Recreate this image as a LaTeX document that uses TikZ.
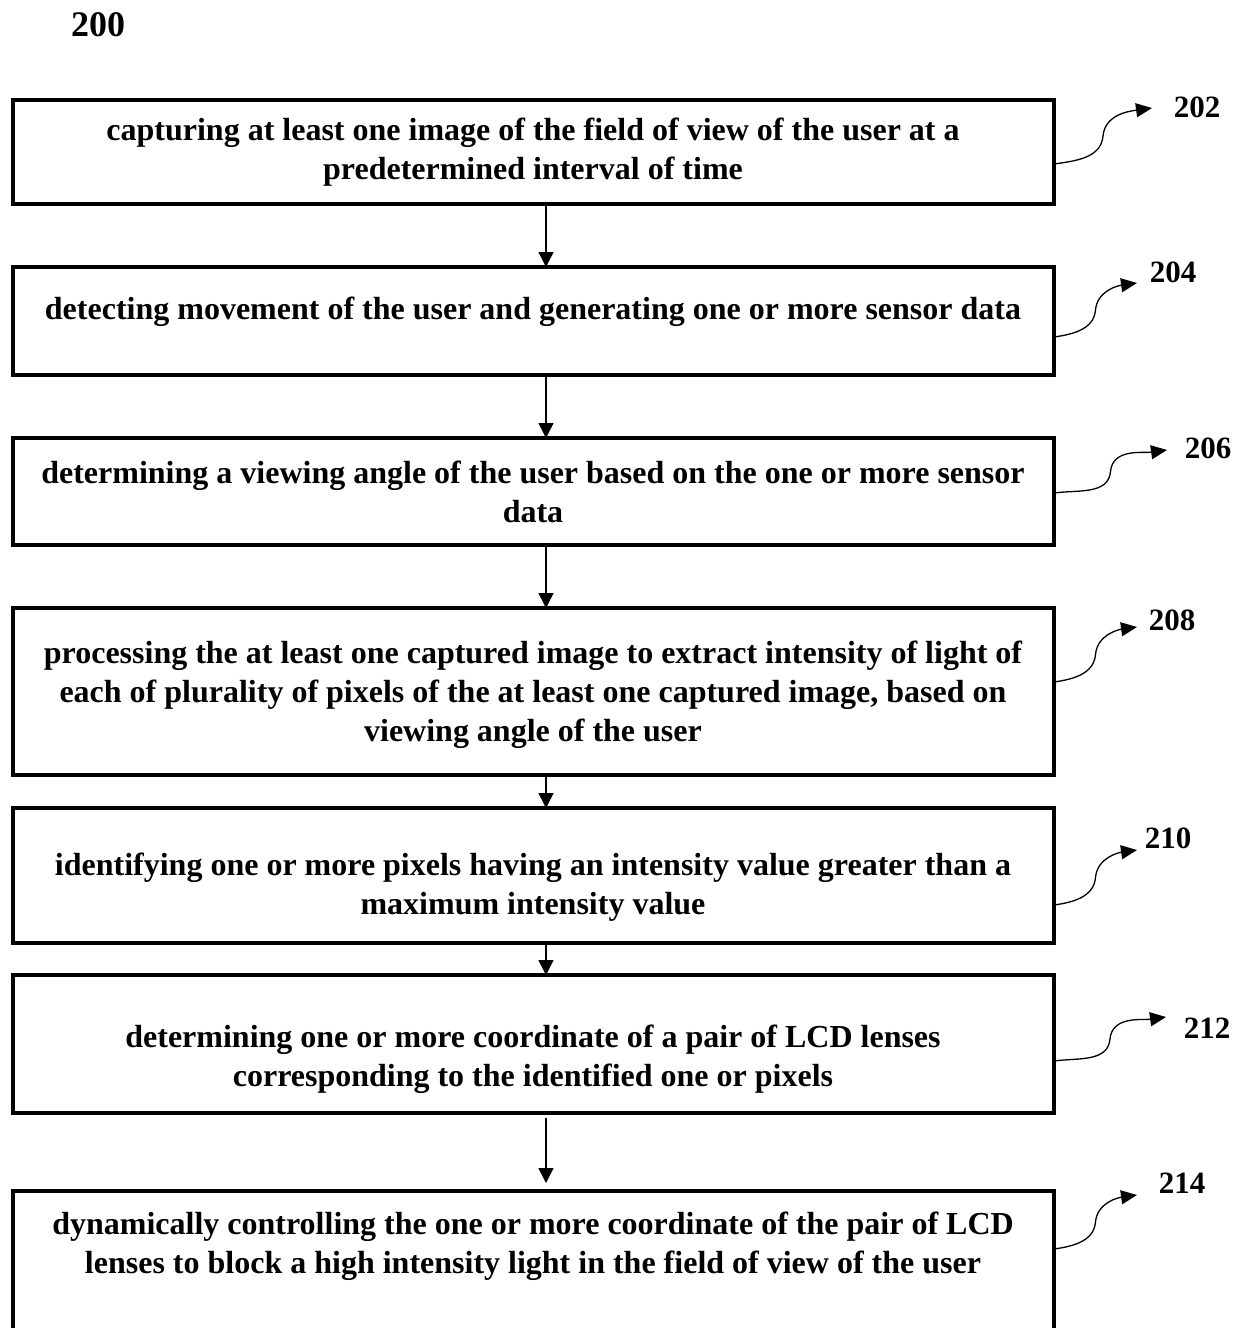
\documentclass[tikz,border=0pt]{standalone}
\usepackage{fontspec}
\setmainfont{Liberation Serif}
\usetikzlibrary{arrows.meta,calc}
\tikzset{
  stepbox/.style={draw, line width=4pt, inner sep=0pt, outer sep=0pt},
  steptext/.style={font=\fontsize{32}{39}\selectfont\bfseries, align=center, inner sep=0pt},
  reflabel/.style={font=\fontsize{31}{34}\selectfont\bfseries, inner sep=0pt},
  flow/.style={line width=1.5pt, -{Triangle[length=15pt,width=15pt]}},
  leader/.style={line width=1.3pt, -{Triangle[length=16pt,width=14pt]}}
}
\begin{document}
\begin{tikzpicture}[x=1pt,y=-1pt]
\clip (0,0) rectangle (1243,1328);
\fill[white] (0,0) rectangle (1243,1328);

\node[reflabel, font=\fontsize{36}{38}\selectfont\bfseries] (fig) at (98,25) {200};

% boxes
\node[stepbox, minimum width=1041pt, minimum height=104pt] (b202) at (533.5,152) {};
\node[stepbox, minimum width=1041pt, minimum height=108pt] (b204) at (533.5,321) {};
\node[stepbox, minimum width=1041pt, minimum height=107pt] (b206) at (533.5,491.5) {};
\node[stepbox, minimum width=1041pt, minimum height=167pt] (b208) at (533.5,691.5) {};
\node[stepbox, minimum width=1041pt, minimum height=135pt] (b210) at (533.5,875.5) {};
\node[stepbox, minimum width=1041pt, minimum height=138pt] (b212) at (533.5,1044) {};
\node[stepbox, minimum width=1041pt, minimum height=169pt] (b214) at (533.5,1275.5) {};

% texts
\node[steptext] (t202txt) at (533,152) {capturing at least one image of the field of view of the user at a\\predetermined interval of time};
\node[steptext] (t204txt) at (533,312) {detecting movement of the user and generating one or more sensor data};
\node[steptext] (t206txt) at (533,492) {determining a viewing angle of the user based on the one or more sensor\\data};
\node[steptext] (t208txt) at (533,695) {processing the at least one captured image to extract intensity of light of\\each of plurality of pixels of the at least one captured image, based on\\viewing angle of the user};
\node[steptext] (t210txt) at (533,887) {identifying one or more pixels having an intensity value greater than a\\maximum intensity value};
\node[steptext] (t212txt) at (533,1059) {determining one or more coordinate of a pair of LCD lenses\\corresponding to the identified one or pixels};
\node[steptext] (t214txt) at (533,1246) {dynamically controlling the one or more coordinate of the pair of LCD\\lenses to block a high intensity light in the field of view of the user};

% flow arrows
\coordinate (ax) at (546,0);
\draw[flow] (b202.south -| ax) -- (b204.north -| ax);
\draw[flow] (b204.south -| ax) -- (b206.north -| ax);
\draw[flow] (b206.south -| ax) -- (b208.north -| ax);
\draw[flow] (b208.south -| ax) -- (b210.north -| ax);
\draw[flow] (b210.south -| ax) -- (b212.north -| ax);
\draw[flow, shorten <=5pt, shorten >=8pt] (b212.south -| ax) -- (b214.north -| ax);

% reference labels and leaders
\node[reflabel] (l202) at (1197,107) {202};
\node[reflabel] (l204) at (1173,272) {204};
\node[reflabel] (l206) at (1208,448) {206};
\node[reflabel] (l208) at (1172,620) {208};
\node[reflabel] (l210) at (1168,838) {210};
\node[reflabel] (l212) at (1207,1028) {212};
\node[reflabel] (l214) at (1182,1183) {214};

\foreach \n/\sy/\tx/\ty in {202/164/1152/108, 204/337/1137/283, 206/493/1167/450, 208/682/1137/627, 210/905/1137/850, 212/1061/1166/1017, 214/1249/1137/1195}{
  \coordinate (s\n) at (b\n.east |- 0,\sy);
  \coordinate (e\n) at (\tx,\ty);
  \coordinate (m\n) at ($(s\n)!0.5!(e\n)$);
  \draw[leader] (s\n) to[out=8,in=-95] (m\n) to[out=85,in=188] (e\n);
}
\end{tikzpicture}
\end{document}
